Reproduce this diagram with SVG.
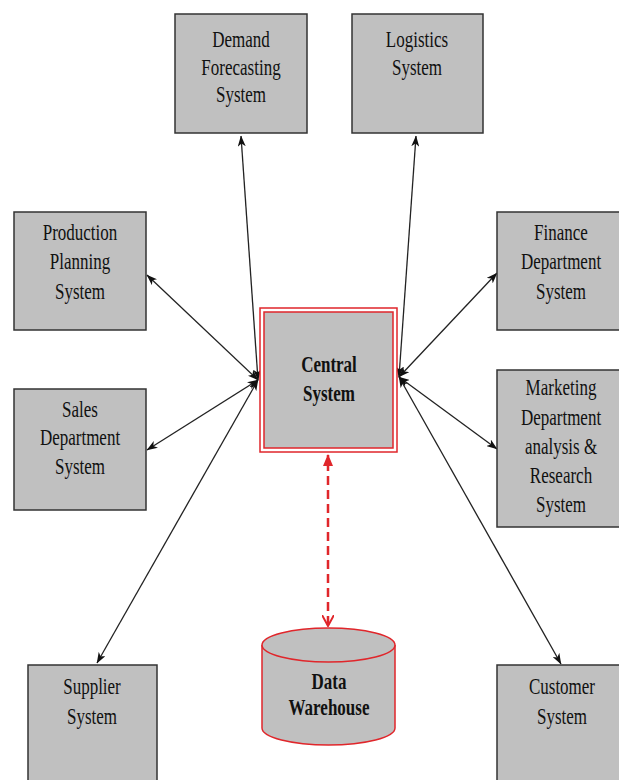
<svg xmlns="http://www.w3.org/2000/svg" width="619" height="780" viewBox="0 0 619 780">
  <style>
    .box { fill: #c0c0c0; stroke: #333333; stroke-width: 1.5; }
    .lbl { font-family: "Liberation Serif", "Times New Roman", serif; font-size: 17px; fill: #111111; text-anchor: middle; }
    .bold { font-weight: bold; }
    .link { stroke: #222222; stroke-width: 1.3; fill: none; marker-start: url(#arrow); marker-end: url(#arrow); }
    .red { stroke: #e0262b; stroke-width: 1.5; }
  </style>
  <defs>
    <marker id="arrow" viewBox="0 0 11 8" refX="10.5" refY="4" markerWidth="11" markerHeight="8" markerUnits="userSpaceOnUse" orient="auto-start-reverse">
      <path d="M0,0 L11,4 L0,8 L3,4 z" fill="#111111"/>
    </marker>
    <marker id="redHead" viewBox="0 0 12 10" refX="11" refY="5" markerWidth="12" markerHeight="10" markerUnits="userSpaceOnUse" orient="auto">
      <path d="M0,0 L12,5 L0,10 z" fill="#e0262b"/>
    </marker>
    <marker id="redOpen" viewBox="0 0 12 12" refX="11" refY="6" markerWidth="12" markerHeight="12" markerUnits="userSpaceOnUse" orient="auto">
      <path d="M0,0 L11,6 L0,12" fill="none" stroke="#e0262b" stroke-width="2"/>
    </marker>
  </defs>

  <rect width="619" height="780" fill="#ffffff"/>

  <!-- connectors -->
  <g id="connectors">
    <line class="link" x1="258" y1="380" x2="241" y2="136"/>
    <line class="link" x1="399" y1="377" x2="416" y2="136"/>
    <line class="link" x1="258" y1="380" x2="147" y2="275"/>
    <line class="link" x1="258" y1="380" x2="147" y2="450"/>
    <line class="link" x1="258" y1="380" x2="97" y2="663"/>
    <line class="link" x1="399" y1="377" x2="497" y2="273"/>
    <line class="link" x1="399" y1="377" x2="497" y2="449"/>
    <line class="link" x1="399" y1="377" x2="561" y2="664"/>
    <line x1="328" y1="625" x2="328" y2="455" stroke="#e0262b" stroke-width="2.5" stroke-dasharray="9,5" marker-end="url(#redHead)" fill="none"/>
    <line x1="328" y1="470" x2="328" y2="626" stroke="none" marker-end="url(#redOpen)"/>
  </g>

  <g id="demand">
    <rect class="box" x="175" y="14" width="132" height="119"/>
    <text class="lbl" transform="translate(241 47) scale(1 1.3)">Demand</text>
    <text class="lbl" transform="translate(241 75) scale(1 1.3)">Forecasting</text>
    <text class="lbl" transform="translate(241 102) scale(1 1.3)">System</text>
  </g>

  <g id="logistics">
    <rect class="box" x="352" y="14" width="131" height="119"/>
    <text class="lbl" transform="translate(417 47) scale(1 1.3)">Logistics</text>
    <text class="lbl" transform="translate(417 75) scale(1 1.3)">System</text>
  </g>

  <g id="production">
    <rect class="box" x="14" y="212" width="132" height="118"/>
    <text class="lbl" transform="translate(80 240) scale(1 1.3)">Production</text>
    <text class="lbl" transform="translate(80 269) scale(1 1.3)">Planning</text>
    <text class="lbl" transform="translate(80 299) scale(1 1.3)">System</text>
  </g>

  <g id="sales">
    <rect class="box" x="14" y="389" width="132" height="121"/>
    <text class="lbl" transform="translate(80 417) scale(1 1.3)">Sales</text>
    <text class="lbl" transform="translate(80 445) scale(1 1.3)">Department</text>
    <text class="lbl" transform="translate(80 474) scale(1 1.3)">System</text>
  </g>

  <g id="finance">
    <rect class="box" x="497" y="212" width="128" height="118"/>
    <text class="lbl" transform="translate(561 240) scale(1 1.3)">Finance</text>
    <text class="lbl" transform="translate(561 269) scale(1 1.3)">Department</text>
    <text class="lbl" transform="translate(561 299) scale(1 1.3)">System</text>
  </g>

  <g id="marketing">
    <rect class="box" x="497" y="370" width="128" height="157"/>
    <text class="lbl" transform="translate(561 395) scale(1 1.3)">Marketing</text>
    <text class="lbl" transform="translate(561 425) scale(1 1.3)">Department</text>
    <text class="lbl" transform="translate(561 454) scale(1 1.3)">analysis &amp;</text>
    <text class="lbl" transform="translate(561 483) scale(1 1.3)">Research</text>
    <text class="lbl" transform="translate(561 512) scale(1 1.3)">System</text>
  </g>

  <g id="supplier">
    <rect class="box" x="28" y="665" width="129" height="125"/>
    <text class="lbl" transform="translate(92 694) scale(1 1.3)">Supplier</text>
    <text class="lbl" transform="translate(92 724) scale(1 1.3)">System</text>
  </g>

  <g id="customer">
    <rect class="box" x="497" y="665" width="130" height="125"/>
    <text class="lbl" transform="translate(562 694) scale(1 1.3)">Customer</text>
    <text class="lbl" transform="translate(562 724) scale(1 1.3)">System</text>
  </g>

  <g id="central">
    <rect x="260" y="308" width="137" height="144" fill="#ffffff" class="red"/>
    <rect x="264" y="312" width="129" height="136" fill="#c0c0c0" class="red"/>
    <text class="lbl bold" transform="translate(329 372) scale(1 1.3)">Central</text>
    <text class="lbl bold" transform="translate(329 401) scale(1 1.3)">System</text>
  </g>

  <g id="warehouse">
    <path d="M262,645 L262,728 A66.5,17 0 0 0 395,728 L395,645" fill="#c0c0c0" class="red"/>
    <ellipse cx="328.5" cy="645" rx="66.5" ry="17" fill="#c0c0c0" class="red"/>
    <text class="lbl bold" transform="translate(329 689) scale(1 1.3)">Data</text>
    <text class="lbl bold" transform="translate(329 715) scale(1 1.3)">Warehouse</text>
  </g>
</svg>
